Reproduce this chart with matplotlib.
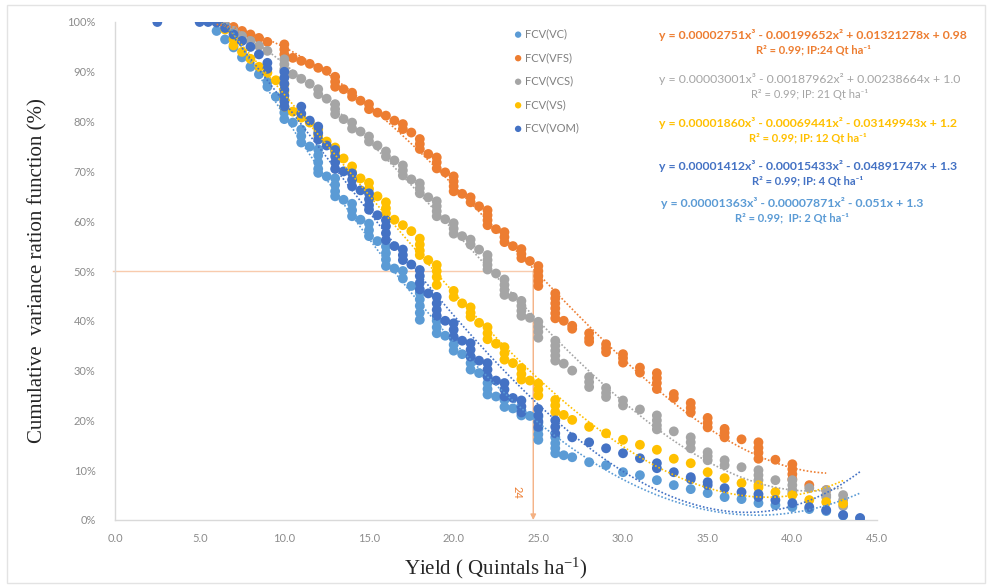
import matplotlib
matplotlib.use("Agg")
import matplotlib.pyplot as plt
import numpy as np
from matplotlib.patches import Rectangle

# ---------------- data ----------------
series_names = ["FCV(VC)", "FCV(VFS)", "FCV(VCS)", "FCV(VS)", "FCV(VOM)"]
series_colors = ["#5B9BD5", "#ED7D31", "#A5A5A5", "#FFC000", "#4472C4"]

# FCV(VC)
vc_x = [6.0, 6.5, 7.0, 7.5, 8.0, 8.5, 9.0, 9.0, 9.5, 10.0, 10.0, 10.0, 10.5, 11.0, 11.0, 11.0, 11.5,
        12.0, 12.0, 12.0, 12.0, 12.0, 12.5, 13.0, 13.0, 13.0, 13.0, 13.5, 14.0, 14.0, 14.0, 14.5,
        15.0, 15.0, 15.0, 15.5, 16.0, 16.0, 16.0, 16.0, 16.5, 17.0, 17.0, 17.5,
        18.0, 18.0, 18.0, 18.0, 18.0, 19.0, 19.0, 19.0, 19.5, 20.0, 20.0, 20.0, 20.5,
        21.0, 21.0, 21.0, 21.5, 22.0, 22.0, 22.0, 22.0, 22.5, 23.0, 23.0, 23.5, 24.0, 24.0, 24.5,
        25.0, 25.0, 25.0, 25.0, 25.0, 26.0, 26.0, 26.0, 26.0, 26.5, 27.0, 28.0, 29.0, 30.0,
        31.0, 32.0, 33.0, 34.0, 35.0, 36.0, 37.0, 38.0, 39.0, 40.0, 41.0, 42.0, 43.0, 44.0]
vc_y = [98.2, 96.5, 94.9, 92.9, 91.0, 89.5, 88.0, 87.0, 85.0, 83.0, 81.8, 80.5, 79.8, 78.4, 77.1, 75.8, 75.0,
        74.4, 73.2, 71.8, 70.5, 69.7, 69.0, 68.6, 67.3, 66.0, 65.0, 64.3, 63.5, 62.2, 61.0, 60.3,
        59.5, 58.2, 57.0, 56.0, 54.9, 53.6, 52.3, 51.0, 50.5, 50.0, 48.5, 47.0,
        45.6, 44.3, 43.0, 41.6, 40.2, 40.0, 38.7, 37.5, 37.0, 36.5, 35.2, 34.0, 33.3,
        32.8, 31.5, 30.2, 29.5, 28.8, 27.5, 26.3, 25.2, 24.8, 24.1, 22.7, 22.4, 22.0, 21.0, 20.9,
        20.7, 19.5, 18.3, 17.2, 16.1, 16.6, 15.4, 14.4, 13.4, 13.0, 12.6, 11.6, 11.0, 9.6,
        9.0, 8.0, 7.0, 6.2, 5.4, 4.6, 4.2, 3.4, 3.0, 2.6, 2.2, 1.8, 0.9, 0.3]

# FCV(VFS)
vfs_x = [6.0, 6.5, 7.0, 7.5, 8.0, 8.5, 9.0, 10.0, 10.0, 10.0, 10.5, 11.0, 11.5, 12.0, 12.5,
         13.0, 13.0, 13.0, 13.5, 14.0, 14.0, 14.5, 15.0, 15.0, 15.5, 16.0, 16.5, 17.0, 17.0, 17.5,
         18.0, 18.0, 18.0, 18.5, 19.0, 19.0, 19.0, 19.5, 20.0, 20.0, 20.0, 20.0, 20.5, 21.0, 21.0, 21.5,
         22.0, 22.0, 22.0, 22.0, 22.5, 23.0, 23.0, 23.0, 23.5, 24.0, 24.0, 24.0, 24.5,
         25.0, 25.0, 25.0, 25.0, 25.0, 26.0, 26.0, 26.0, 26.0, 26.0, 26.0, 26.5, 27.0, 27.0,
         28.0, 28.0, 28.0, 29.0, 29.0, 29.0, 30.0, 30.0, 30.0, 31.0, 31.0,
         32.0, 32.0, 32.0, 32.0, 33.0, 33.0, 34.0, 34.0, 34.0, 35.0, 35.0, 35.0, 36.0, 36.0, 36.0,
         37.0, 38.0, 38.0, 38.0, 38.0, 39.0, 40.0, 40.0, 40.0, 40.0, 41.0, 42.0]
vfs_y = [100.0, 99.5, 99.0, 98.2, 97.5, 96.8, 96.0, 95.5, 94.5, 93.5, 92.8, 92.2, 91.6, 90.8, 90.2,
         89.0, 88.0, 87.0, 86.5, 85.8, 85.0, 84.2, 83.5, 82.5, 81.8, 81.2, 80.2, 79.5, 78.5, 77.8,
         76.5, 75.5, 74.5, 73.5, 72.8, 71.8, 70.6, 69.8, 69.0, 68.0, 67.0, 66.0, 65.5, 64.8, 63.8, 63.0,
         62.2, 61.2, 60.2, 59.2, 58.4, 57.8, 56.8, 55.8, 55.0, 54.4, 53.4, 52.6, 52.0,
         51.0, 50.0, 49.0, 48.0, 47.0, 45.5, 44.5, 43.5, 42.5, 41.5, 40.5, 40.0, 39.0, 38.4,
         37.5, 36.5, 35.8, 35.3, 34.5, 33.7, 33.3, 32.5, 31.6, 30.6, 29.6,
         29.5, 28.5, 27.5, 26.3, 25.3, 24.5, 23.5, 22.5, 21.6, 20.5, 19.5, 18.6, 18.3, 17.5, 16.6,
         16.2, 15.6, 14.5, 13.5, 12.3, 12.1, 11.2, 10.2, 9.2, 8.2, 7.0, 6.0]

# FCV(VCS)
vcs_x = [6.0, 6.5, 7.0, 7.5, 8.0, 8.5, 9.0, 10.0, 10.0, 10.0, 10.5, 11.0, 11.5, 12.0, 12.0, 12.5,
         13.0, 13.0, 13.0, 13.5, 14.0, 14.0, 14.5, 15.0, 15.0, 15.5, 16.0, 16.0, 16.5,
         17.0, 17.0, 17.0, 17.5, 18.0, 18.0, 18.0, 18.5, 19.0, 19.0, 19.0, 19.0, 19.5,
         20.0, 20.0, 20.0, 20.5, 21.0, 21.0, 21.5, 22.0, 22.0, 22.0, 22.0, 22.5,
         23.0, 23.0, 23.0, 23.0, 23.5, 24.0, 24.0, 24.0, 24.0, 24.5, 25.0, 25.0, 25.0, 25.0,
         26.0, 26.0, 26.0, 26.0, 26.0, 26.5, 27.0, 28.0, 28.0, 28.0, 29.0, 29.0, 29.0, 30.0, 30.0,
         31.0, 32.0, 32.0, 32.0, 32.0, 33.0, 34.0, 34.0, 34.0, 35.0, 35.0, 35.0, 36.0, 36.0,
         37.0, 38.0, 38.0, 38.0, 39.0, 40.0, 40.0, 40.0, 40.0, 41.0, 42.0, 42.0, 42.0, 43.0, 43.0, 43.0]
vcs_y = [100.0, 99.3, 98.2, 97.2, 96.2, 95.2, 94.2, 92.5, 91.5, 90.5, 89.5, 88.6, 87.6, 86.5, 85.5, 84.6,
         83.5, 82.5, 81.5, 80.5, 79.8, 78.6, 78.0, 77.0, 76.0, 75.2, 74.0, 73.0, 72.2,
         71.2, 70.2, 69.2, 68.4, 67.6, 66.6, 65.6, 64.8, 64.0, 63.0, 62.0, 61.0, 60.4,
         59.6, 58.5, 57.5, 57.0, 56.3, 55.3, 54.3, 53.2, 52.2, 51.2, 50.3, 49.5,
         48.3, 47.2, 46.2, 45.2, 44.8, 44.0, 43.0, 42.0, 41.0, 40.6, 39.8, 38.8, 37.8, 36.6,
         36.0, 35.0, 34.0, 33.0, 32.0, 31.4, 30.0, 28.7, 27.7, 26.7, 26.5, 25.5, 24.7, 24.0, 23.0,
         22.2, 21.0, 20.0, 19.0, 18.2, 17.8, 16.6, 15.6, 14.4, 13.6, 12.8, 12.0, 12.0, 11.0,
         10.6, 10.0, 9.0, 8.0, 8.0, 8.0, 7.0, 6.0, 5.4, 6.4, 6.0, 5.0, 4.6, 5.0, 4.0, 2.8]

# FCV(VS)
vs_x = [6.0, 6.5, 7.0, 7.0, 7.5, 8.0, 8.5, 9.0, 9.5, 10.0, 10.0, 10.0, 10.0, 10.5, 11.0, 11.5,
        12.0, 12.0, 12.5, 13.0, 13.0, 13.5, 14.0, 14.0, 14.5, 15.0, 15.0, 15.5,
        16.0, 16.0, 16.0, 16.5, 17.0, 17.5, 18.0, 18.0, 18.0, 18.0, 18.5, 19.0, 19.0, 19.0, 19.0,
        20.0, 20.0, 20.5, 21.0, 21.0, 21.0, 21.5, 22.0, 22.0, 22.0, 22.5, 23.0, 23.0, 23.0, 23.5,
        24.0, 24.0, 24.0, 24.5, 25.0, 25.0, 25.0, 26.0, 26.0, 26.0, 26.5, 27.0, 28.0, 29.0, 30.0,
        31.0, 32.0, 33.0, 34.0, 35.0, 36.0, 37.0, 38.0, 38.0, 39.0, 40.0, 41.0, 42.0, 43.0]
vs_y = [100.0, 98.5, 96.5, 95.3, 94.0, 92.6, 91.0, 89.8, 88.3, 87.5, 86.0, 84.5, 83.0, 82.0, 80.8, 79.8,
        78.5, 77.2, 76.0, 74.8, 73.8, 72.6, 71.0, 69.8, 68.6, 67.7, 66.5, 65.0,
        63.8, 62.6, 61.6, 60.3, 59.2, 58.0, 56.5, 55.3, 54.1, 53.2, 52.2, 51.2, 50.0, 48.8, 47.2,
        46.0, 44.8, 43.5, 42.7, 41.6, 40.8, 39.6, 38.7, 37.5, 36.3, 35.4, 34.7, 33.5, 32.2, 31.5,
        30.5, 29.3, 28.2, 28.0, 27.4, 26.2, 25.0, 24.1, 23.0, 21.7, 21.1, 20.1, 18.7, 17.4, 16.1,
        15.1, 14.1, 12.3, 11.4, 9.6, 8.4, 7.4, 7.0, 6.5, 5.6, 5.0, 4.0, 3.6, 3.3]

# FCV(VOM)
vom_x = [2.5, 5.0, 5.5, 6.0, 6.5, 7.0, 7.5, 8.0, 8.5, 9.0, 9.0,
         10.0, 10.0, 10.0, 10.0, 10.0, 10.0, 10.0, 11.0, 11.0, 11.5, 12.0, 12.0, 12.0, 12.5,
         13.0, 13.0, 13.0, 13.0, 13.5, 14.0, 14.0, 14.0, 14.5, 15.0, 15.0, 15.0, 15.0, 15.5,
         16.0, 16.0, 16.0, 16.0, 16.5, 17.0, 17.0, 17.0, 17.5, 18.0, 18.0, 18.0, 18.0, 18.5,
         19.0, 19.0, 19.0, 19.0, 19.5, 20.0, 20.0, 20.0, 20.5, 21.0, 21.0, 21.0, 21.5,
         22.0, 22.0, 22.0, 22.5, 23.0, 23.0, 23.0, 23.5, 24.0, 24.0, 24.0,
         25.0, 25.0, 25.0, 25.0, 26.0, 26.0, 26.0, 27.0, 28.0, 29.0, 30.0, 31.0, 32.0, 32.0,
         33.0, 34.0, 34.0, 35.0, 35.0, 36.0, 37.0, 38.0, 38.0, 39.0, 40.0, 41.0, 42.0, 43.0, 44.0]
vom_y = [100.0, 100.0, 100.0, 99.9, 98.8, 97.5, 96.2, 95.0, 93.5, 91.8, 90.6,
         90.0, 88.8, 87.6, 86.4, 85.2, 84.0, 83.0, 83.0, 81.6, 80.2, 79.0, 77.7, 76.4, 75.2,
         74.3, 73.0, 71.8, 70.5, 70.0, 69.6, 68.3, 67.0, 66.2, 65.6, 64.4, 63.2, 62.3, 61.2,
         60.2, 59.0, 57.6, 56.2, 55.0, 54.3, 53.2, 52.2, 51.3, 50.2, 49.0, 47.6, 46.3, 45.5,
         44.8, 43.5, 42.2, 41.0, 40.0, 39.5, 38.2, 36.8, 36.0, 35.5, 34.2, 32.8, 32.0,
         31.5, 30.2, 28.8, 28.0, 27.5, 26.2, 24.8, 24.5, 24.0, 22.8, 21.6,
         22.3, 21.0, 19.8, 18.7, 20.0, 18.7, 17.4, 16.6, 15.6, 14.4, 13.4, 12.4, 11.4, 10.4,
         9.6, 8.6, 8.2, 7.6, 7.0, 6.4, 5.6, 5.2, 4.6, 4.0, 3.4, 2.6, 2.0, 1.0, 0.4]

eq_texts = [
    ("y = 0.00002751x³ - 0.00199652x² + 0.01321278x + 0.98", "R² = 0.99; IP:24 Qt ha⁻¹", "#ED7D31", "bold"),
    ("y = 0.00003001x³ - 0.00187962x² + 0.00238664x + 1.0", "R² = 0.99; IP: 21 Qt ha⁻¹", "#A5A5A5", "normal"),
    ("y = 0.00001860x³ - 0.00069441x² - 0.03149943x + 1.2", "R² = 0.99; IP: 12 Qt ha⁻¹", "#FFC000", "bold"),
    ("y = 0.00001412x³ - 0.00015433x² - 0.04891747x + 1.3", "R² = 0.99; IP: 4 Qt ha⁻¹", "#4472C4", "bold"),
    ("y = 0.00001363x³ - 0.00007871x² - 0.051x + 1.3", "R² = 0.99;  IP: 2 Qt ha⁻¹", "#5B9BD5", "bold"),
]

ip_x = 24.7
ip_y = 50.0
ip_label = "24"

x_ticks = [0, 5, 10, 15, 20, 25, 30, 35, 40, 45]
y_ticks = [0, 10, 20, 30, 40, 50, 60, 70, 80, 90, 100]

# ---------------- plot ----------------
plt.rcParams['font.family'] = ['Lato', 'DejaVu Sans']
plt.rcParams['mathtext.fontset'] = 'custom'
plt.rcParams['mathtext.rm'] = 'Liberation Serif'
plt.rcParams['mathtext.it'] = 'Liberation Serif:italic'
fig = plt.figure(figsize=(9.92, 5.86), dpi=100)
ax = fig.add_axes([115 / 992, 1 - 520 / 586, (877 - 115) / 992, (520 - 22) / 586])

xs_all = [vc_x, vfs_x, vcs_x, vs_x, vom_x]
ys_all = [vc_y, vfs_y, vcs_y, vs_y, vom_y]

for name, color, xs, ys in zip(series_names, series_colors, xs_all, ys_all):
    ax.scatter(xs, np.array(ys) / 100.0, s=50, color=color, edgecolors='none', zorder=3, label=name)

# cubic (polynomial order 3) trend lines fitted to each series over its own x range
for name, color, xs, ys in zip(series_names, series_colors, xs_all, ys_all):
    c = np.polyfit(np.array(xs), np.array(ys) / 100.0, 3)
    xx = np.linspace(min(xs), max(xs), 300)
    yy = np.polyval(c, xx)
    ax.plot(xx, yy, linestyle=(0, (1, 1.2)), color=color, linewidth=1.2, zorder=4)

# inflection guide lines
ax.plot([-0.1, ip_x], [ip_y / 100, ip_y / 100], color='#F8CBAD', linewidth=1.0, zorder=2, clip_on=False)
ax.annotate('', xy=(ip_x, 0.0), xytext=(ip_x, ip_y / 100),
            arrowprops=dict(arrowstyle='-|>', color='#F4B183', lw=1.0, mutation_scale=8,
                            shrinkA=0, shrinkB=0), zorder=2)
ax.text(ip_x - 0.95, 0.055, ip_label, rotation=-90, color='#ED7D31', fontsize=8,
        ha='center', va='center')

ax.set_xlim(0, 45)
ax.set_ylim(0, 1.0)
ax.set_xticks(x_ticks)
ax.set_xticklabels([f"{t:.1f}" for t in x_ticks])
ax.set_yticks([t / 100 for t in y_ticks])
ax.set_yticklabels([f"{t}%" for t in y_ticks])
ax.tick_params(axis='both', length=0, labelsize=8, labelcolor='#8C8C8C')
ax.tick_params(axis='y', pad=14)
ax.tick_params(axis='x', pad=9)
for side in ['top', 'right']:
    ax.spines[side].set_visible(False)
for side in ['left', 'bottom']:
    ax.spines[side].set_color('#D9D9D9')
    ax.spines[side].set_linewidth(1.0)

ax.set_xlabel(r"Yield ( Quintals ha$^{\mathregular{-1}}$)", fontsize=15,
              family=['Liberation Serif', 'DejaVu Serif'], labelpad=9, color='#262626')
ax.set_ylabel("Cumulative  variance ration function (%)", fontsize=15,
              family=['Liberation Serif', 'DejaVu Serif'], labelpad=14, color='#262626')

# legend
leg = ax.legend(loc='upper left', bbox_to_anchor=(507 / 992, 1 - 23 / 586),
                bbox_transform=fig.transFigure, frameon=False, fontsize=8,
                handletextpad=0.1, labelspacing=1.13, borderpad=0, handlelength=1.0,
                markerscale=0.65)
for t in leg.get_texts():
    t.set_color('#808080')

# equations
eq_pos = [(813, 35, 50), (810, 79, 95), (808, 123, 138), (808, 166, 181), (792, 203, 218)]
for (l1, l2, col, wt), (cx, y1, y2) in zip(eq_texts, eq_pos):
    fig.text(cx / 992, 1 - y1 / 586, l1, color=col, fontsize=8.8, fontweight=wt, ha='center', va='center')
    fig.text(cx / 992, 1 - y2 / 586, l2, color=col, fontsize=8.0, fontweight=wt, ha='center', va='center')

# outer frame
fig.patches.append(Rectangle((7 / 992, 3 / 586), 978 / 992, 578 / 586, transform=fig.transFigure,
                             fill=False, edgecolor='#E3E3E3', linewidth=1.0))

fig.savefig("out.png", dpi=100)
